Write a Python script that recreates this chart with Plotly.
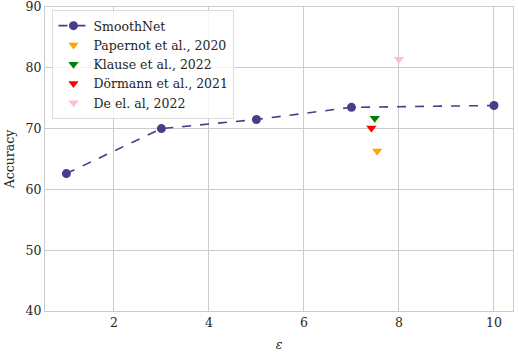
import plotly.graph_objects as go

# SmoothNet curve
eps = [1, 3, 5, 7, 10]
acc = [62.6, 70.0, 71.5, 73.5, 73.8]

# other methods (single points)
others = ["Papernot et al., 2020", "Klause et al., 2022", "Dörmann et al., 2021", "De el. al, 2022"]
others_eps = [7.54, 7.49, 7.42, 8.0]
others_acc = [66.3, 71.7, 70.1, 81.4]
others_colors = ["orange", "green", "red", "pink"]

serif = "DejaVu Serif"
grid = "#cccccc"
txt = dict(family=serif, size=12.5, color="#262626")

fig = go.Figure()
fig.add_trace(
    go.Scatter(
        x=eps,
        y=acc,
        mode="lines+markers",
        name="SmoothNet",
        line=dict(color="#483d8b", dash="dash", width=1.6),
        marker=dict(color="#483d8b", size=9),
    )
)
for name, x, y, c in zip(others, others_eps, others_acc, others_colors):
    fig.add_trace(
        go.Scatter(
            x=[x],
            y=[y],
            mode="markers",
            name=name,
            marker=dict(color=c, symbol="triangle-down", size=9),
        )
    )

fig.update_layout(
    width=518,
    height=352,
    margin=dict(l=45, r=5, t=7, b=41, autoexpand=False),
    plot_bgcolor="white",
    paper_bgcolor="white",
    font=txt,
    legend=dict(
        x=0.016,
        y=0.99,
        xanchor="left",
        yanchor="top",
        bgcolor="rgba(255,255,255,0.8)",
        bordercolor="#dddddd",
        borderwidth=1,
        font=txt,
        tracegroupgap=0,
        itemwidth=30,
    ),
    xaxis=dict(
        range=[0.55, 10.4],
        tickvals=[2, 4, 6, 8, 10],
        tickfont=txt,
        showgrid=True,
        gridcolor=grid,
        zeroline=False,
        showline=True,
        linecolor=grid,
        mirror=True,
        ticks="",
        automargin=False,
        title=dict(text="<i>ε</i>", standoff=12, font=txt),
    ),
    yaxis=dict(
        range=[40, 90],
        tickvals=[40, 50, 60, 70, 80, 90],
        tickfont=txt,
        ticklabeloverflow="allow",
        showgrid=True,
        gridcolor=grid,
        zeroline=False,
        showline=True,
        linecolor=grid,
        mirror=True,
        ticks="",
        automargin=False,
        title=dict(text="Accuracy", standoff=8, font=txt),
    ),
)

# drop the default 8px page margin so the figure sits at the window corner
fig.write_html(
    "out.html",
    config={"displayModeBar": False},
    post_script="document.body.style.margin='0';",
)
